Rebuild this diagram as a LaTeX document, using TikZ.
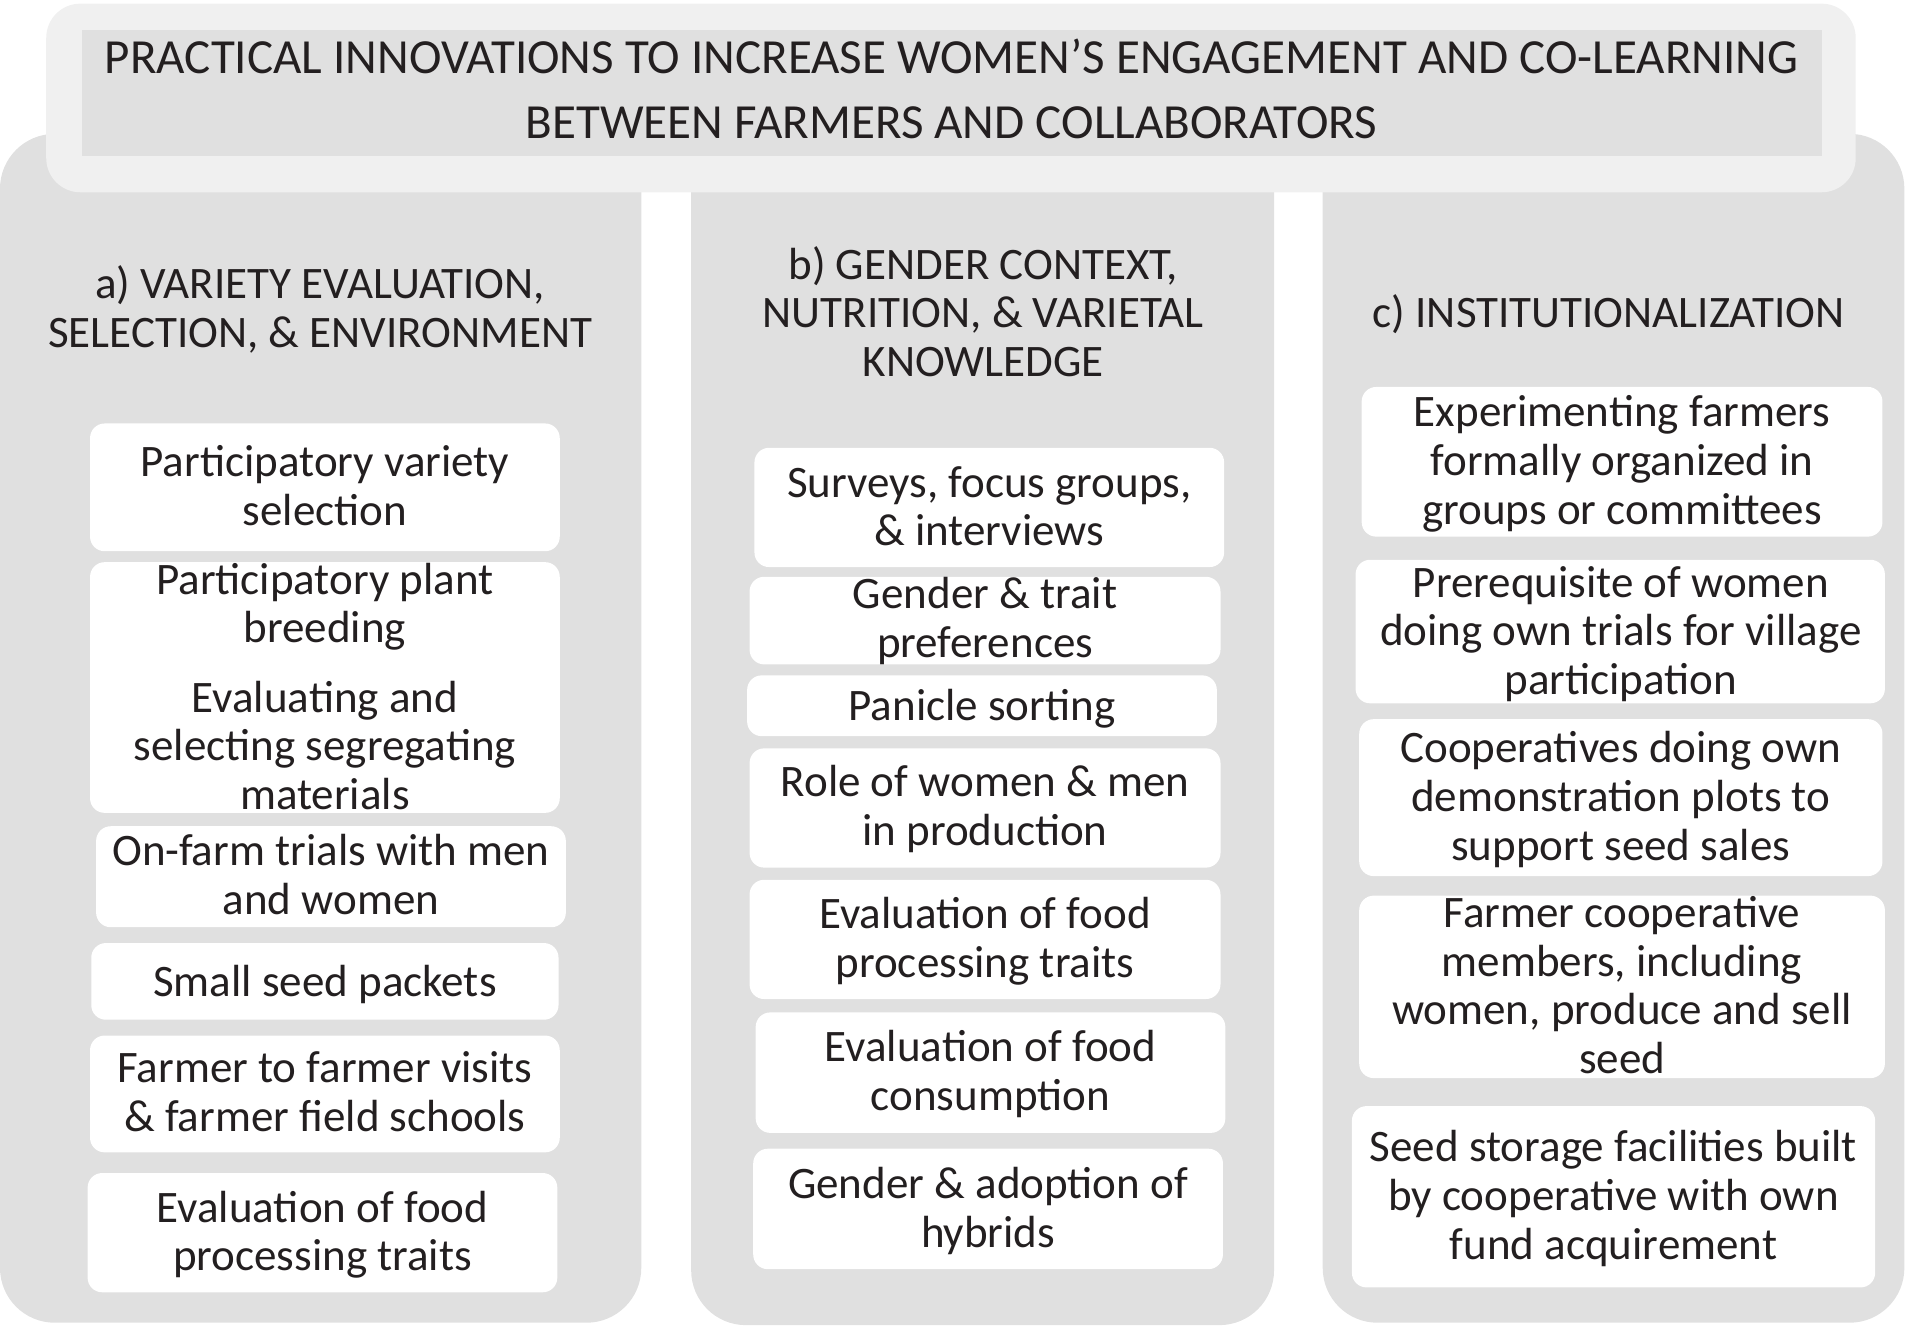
\documentclass[tikz,border=0pt]{standalone}
\usepackage{fontspec}
\setmainfont{Carlito}
\definecolor{colbg}{RGB}{224,224,224}
\definecolor{titlebg}{RGB}{240,240,240}
\definecolor{inkc}{RGB}{35,31,32}
\tikzset{
  colbox/.style={fill=colbg, draw=none, rounded corners=45pt, inner sep=0pt},
  wbox/.style={fill=white, draw=none, rounded corners=12pt, inner sep=0pt},
  txt/.style={font=\fontsize{37}{40}\selectfont, align=center, text=inkc, inner sep=0pt,
    execute at begin node=\strut, execute at end node=\strut, yshift=-5pt},
  hdr/.style={txt, yshift=2pt},
  titletxt/.style={font=\fontsize{40.3}{53}\selectfont, align=center, text=inkc, inner sep=0pt,
    execute at begin node=\strut, execute at end node=\strut, yshift=-5pt},
}
\begin{document}
\begin{tikzpicture}[x=1pt,y=-1pt]
\useasboundingbox (0,0) rectangle (1568,1089);
% columns
\node[colbox, minimum width=527pt, minimum height=977pt] (colA) at (263.5,598.5) {};
\node[colbox, minimum width=479pt, minimum height=979pt] (colB) at (807.5,599.5) {};
\node[colbox, minimum width=478pt, minimum height=977pt] (colC) at (1326,598.5) {};
% title
\node[fill=titlebg, rounded corners=28pt, inner sep=0pt, minimum width=1487pt, minimum height=155pt] (tout) at (781.5,80.5) {};
\node[fill=colbg, inner sep=0pt, minimum width=1430pt, minimum height=103pt] (tin) at (782,76.5) {};
\node[titletxt] (ttl) at (782,76) {PRACTICAL INNOVATIONS TO INCREASE WOMEN’S ENGAGEMENT AND CO-LEARNING\\BETWEEN FARMERS AND COLLABORATORS};
% headers
\node[hdr] (hA) at (263,255) {a) VARIETY EVALUATION,\\SELECTION, \& ENVIRONMENT};
\node[hdr] (hB) at (808,259) {b) GENDER CONTEXT,\\NUTRITION, \& VARIETAL\\KNOWLEDGE};
\node[hdr] (hC) at (1322,258) {c) INSTITUTIONALIZATION};
% column a boxes
\node[wbox, minimum width=386pt, minimum height=105pt] (a1) at (267,400.5) {};
\node[txt] (a1t) at (267,400) {Participatory variety\\selection};
\node[wbox, minimum width=386pt, minimum height=206pt] (a2) at (267,565) {};
\node[txt] (a2t) at (267,565) {Participatory plant\\breeding\\[17pt]Evaluating and\\selecting segregating\\materials};
\node[wbox, minimum width=386pt, minimum height=83pt] (a3) at (272,720.5) {};
\node[txt] (a3t) at (272,719.5) {On-farm trials with men\\and women};
\node[wbox, minimum width=384pt, minimum height=63pt] (a4) at (267,806.5) {};
\node[txt] (a4t) at (267,806) {Small seed packets};
\node[wbox, minimum width=386pt, minimum height=96pt] (a5) at (267,899) {};
\node[txt] (a5t) at (267,898) {Farmer to farmer visits\\\& farmer field schools};
\node[wbox, minimum width=386pt, minimum height=98pt] (a6) at (265,1013) {};
\node[txt] (a6t) at (265,1012.5) {Evaluation of food\\processing traits};
% column b boxes
\node[wbox, minimum width=386pt, minimum height=98pt] (b1) at (813,417) {};
\node[txt] (b1t) at (813,417) {Surveys, focus groups,\\\& interviews};
\node[wbox, minimum width=387pt, minimum height=72pt] (b2) at (809.5,510) {};
\node[txt] (b2t) at (809.5,508.5) {Gender \& trait\\preferences};
\node[wbox, minimum width=386pt, minimum height=50pt] (b3) at (807,580) {};
\node[txt] (b3t) at (807,579) {Panicle sorting};
\node[wbox, minimum width=387pt, minimum height=98pt] (b4) at (809.5,664) {};
\node[txt] (b4t) at (809.5,663) {Role of women \& men\\in production};
\node[wbox, minimum width=387pt, minimum height=98pt] (b5) at (809.5,772) {};
\node[txt] (b5t) at (809.5,771.5) {Evaluation of food\\processing traits};
\node[wbox, minimum width=386pt, minimum height=99pt] (b6) at (814,881.5) {};
\node[txt] (b6t) at (814,880.5) {Evaluation of food\\consumption};
\node[wbox, minimum width=386pt, minimum height=99pt] (b7) at (812,993.5) {};
\node[txt] (b7t) at (812,993) {Gender \& adoption of\\hybrids};
% column c boxes
\node[wbox, minimum width=428pt, minimum height=123pt] (c1) at (1333,379.5) {};
\node[txt] (c1t) at (1333,379) {Experimenting farmers\\formally organized in\\groups or committees};
\node[wbox, minimum width=435pt, minimum height=118pt] (c2) at (1331.5,519) {};
\node[txt] (c2t) at (1332,519) {Prerequisite of women\\doing own trials for village\\participation};
\node[wbox, minimum width=430pt, minimum height=129pt] (c3) at (1332,655.5) {};
\node[txt] (c3t) at (1332,655) {Cooperatives doing own\\demonstration plots to\\support seed sales};
\node[wbox, minimum width=432pt, minimum height=150pt] (c4) at (1333,811) {};
\node[txt] (c4t) at (1333,810.5) {Farmer cooperative\\members, including\\women, produce and sell\\seed};
\node[wbox, minimum width=430pt, minimum height=149pt] (c5) at (1326,983.5) {};
\node[txt] (c5t) at (1326,983) {Seed storage facilities built\\by cooperative with own\\fund acquirement};
\end{tikzpicture}
\end{document}
